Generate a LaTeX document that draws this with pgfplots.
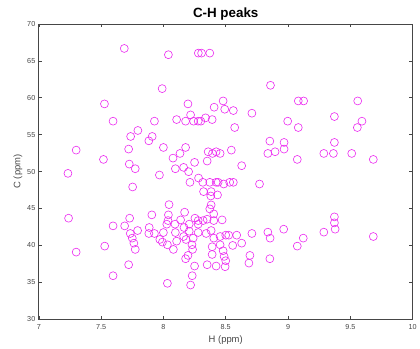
\documentclass[border=0pt]{standalone}
\usepackage{pgfplots}
\pgfplotsset{compat=1.18}
\usepackage{fontspec}
\setmainfont{Liberation Sans}
\definecolor{axgray}{RGB}{70,70,70}
\definecolor{mag}{RGB}{235,40,240}
\begin{document}
\begin{tikzpicture}
\begin{axis}[
  name=ax,
  at={(0,0)}, anchor=south west,
  scale only axis,
  width=376bp, height=297bp,
  xmin=7, xmax=10, ymin=30, ymax=70,
  xtick={7,7.5,...,10}, ytick={30,35,...,70},
  xticklabels={7,7.5,8,8.5,9,9.5,10},
  tick align=inside, tick pos=both,
  major tick length=3.5bp,
  axis line style={axgray, line width=0.7pt},
  every tick/.style={axgray, line width=0.5pt},
  tick label style={font=\fontsize{7.3}{8}\selectfont, text=axgray},
  xticklabel style={yshift=-1.5bp},
  /pgf/number format/assume math mode=true,
  xlabel={H (ppm)}, ylabel={C (ppm)},
  label style={font=\fontsize{9.5}{11}\selectfont, text=axgray},
  xlabel style={yshift=0bp},
  ylabel style={yshift=-2bp},
  title={\textbf{C-H peaks}},
  title style={font=\fontsize{13.5}{15}\selectfont, yshift=-6bp},
]
\addplot[only marks, mark=o, mark size=4bp, mark options={mag, line width=0.6pt}] coordinates {
(7.686,66.67) (8.040,65.82) (8.280,66.04) (8.306,66.04) (8.372,66.04)
(7.990,61.23) (8.859,61.68) (7.527,59.16) (8.197,59.16) (8.479,59.56)
(9.082,59.56) (9.125,59.56) (9.559,59.56) (8.407,58.71) (8.492,58.44)
(8.561,58.26) (8.218,57.67) (8.106,57.04) (8.178,56.82) (8.242,56.82)
(8.279,56.82) (8.300,56.82) (8.338,57.27) (8.391,57.04) (8.710,57.90)
(7.596,56.82) (7.928,56.82) (8.997,56.82) (9.372,57.45) (9.593,56.82)
(8.572,55.96) (9.082,55.96) (9.556,55.96) (7.795,55.56) (7.737,54.75)
(7.910,54.75) (7.883,54.16) (8.854,54.12) (8.968,53.94) (9.372,53.94)
(7.300,52.90) (7.721,53.04) (8.000,53.26) (8.178,53.26) (8.133,52.45)
(8.359,52.68) (8.394,52.45) (8.423,52.68) (8.455,52.45) (8.545,52.90)
(8.838,52.45) (8.896,52.68) (8.968,53.04) (9.287,52.45) (9.364,52.45)
(9.511,52.45) (7.519,51.64) (9.074,51.64) (9.684,51.64) (7.726,51.01)
(8.077,51.82) (8.250,51.24) (8.351,51.42) (8.628,50.79) (7.234,49.75)
(7.774,50.38) (8.096,50.38) (8.162,50.56) (8.202,49.98) (7.968,49.53)
(8.282,49.12) (8.213,48.54) (8.316,48.54) (8.372,48.54) (8.423,48.54)
(8.439,48.54) (8.484,48.31) (8.532,48.54) (8.561,48.54) (8.771,48.31)
(7.753,47.91) (8.322,47.28) (8.383,47.28) (8.380,46.69) (8.434,46.83)
(8.045,45.52) (8.383,45.48) (8.372,44.94) (8.170,44.49) (8.404,44.26)
(7.239,43.68) (7.729,43.68) (7.907,44.13) (8.040,44.13) (8.138,43.45)
(8.037,43.36) (8.027,42.87) (8.093,42.87) (8.207,42.87) (9.372,43.86)
(9.372,43.05) (9.378,42.19) (7.596,42.64) (7.689,42.64) (8.253,43.68)
(8.279,43.36) (8.319,43.36) (8.351,43.54) (8.404,43.36) (8.471,43.45)
(8.279,42.87) (8.165,42.42) (7.793,42.01) (7.886,42.42) (8.383,42.01)
(7.883,41.61) (7.928,41.61) (7.734,41.61) (8.000,41.74) (8.096,41.74)
(8.207,41.92) (8.279,41.74) (8.343,41.61) (8.838,41.79) (8.710,41.61)
(8.965,42.19) (9.287,41.79) (8.162,41.20) (8.239,40.98) (8.404,40.98)
(8.455,41.20) (8.500,41.38) (8.524,41.38) (8.588,41.38) (8.856,40.98)
(9.122,40.98) (9.684,41.20) (7.750,40.98) (7.971,40.80) (7.992,40.44)
(8.106,40.57) (8.181,40.80) (8.229,40.08) (7.763,40.30) (8.032,40.08)
(8.391,39.81) (8.455,40.08) (8.556,39.99) (8.628,40.30) (9.074,39.90)
(7.529,39.90) (7.774,39.45) (8.080,39.45) (8.234,39.45) (7.300,39.09)
(8.479,39.27) (8.197,38.64) (8.391,38.77) (8.487,38.50) (8.694,38.64)
(8.178,38.19) (8.500,37.92) (8.854,38.19) (8.686,37.60) (7.721,37.38)
(8.351,37.38) (8.423,37.20) (8.250,37.20) (8.495,37.11) (7.596,35.89)
(8.231,35.89) (8.032,34.86) (8.218,34.63)
};
\end{axis}
\path[use as bounding box] (ax.south west) ++(-39bp,-29bp) rectangle ++(420bp,350bp);
\end{tikzpicture}
\end{document}
